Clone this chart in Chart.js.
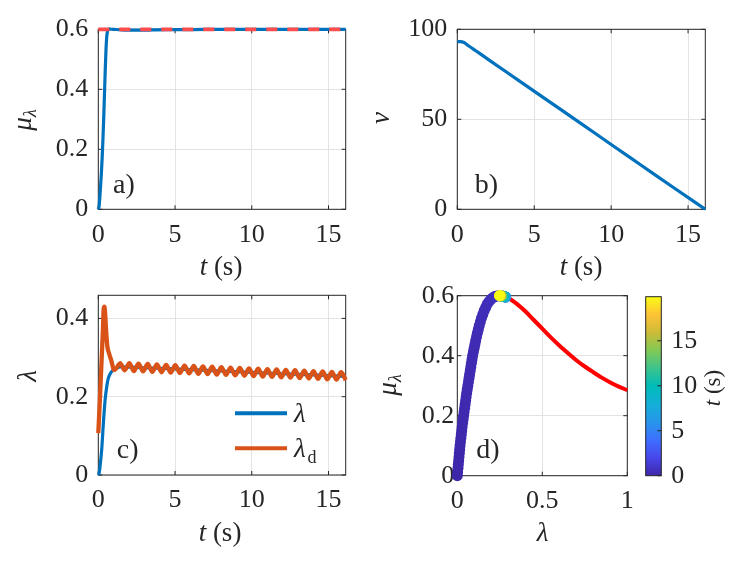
<!DOCTYPE html>
<html><head><meta charset="utf-8">
<script src="https://cdn.jsdelivr.net/npm/chart.js@4.4.1/dist/chart.umd.min.js"></script>
<style>
html,body{margin:0;padding:0;background:#fff;}
#wrap{position:relative;width:747px;height:561px;overflow:hidden;}
canvas{position:absolute;left:0;top:0;}
</style></head><body><div id="wrap">
<canvas id="ca" width="747" height="561"></canvas>
<canvas id="cb" width="747" height="561"></canvas>
<canvas id="cc" width="747" height="561"></canvas>
<canvas id="cd" width="747" height="561"></canvas>
<canvas id="ce" width="747" height="561"></canvas>
</div>
<script>
// ---------------- data ----------------
// panel a: friction coefficient vs time
const muTime  = [0, 0.05, 0.1, 0.15, 0.2, 0.25, 0.3, 0.35, 0.4, 0.45, 0.5, 0.55, 0.6, 0.65, 0.75, 1.0, 1.5, 2.0, 2.5, 3.0, 3.5, 4.5, 6, 8, 10, 12, 14, 16.12];
const muValue = [0, 0.01, 0.04, 0.08, 0.12, 0.17, 0.23, 0.30, 0.38, 0.46, 0.53, 0.575, 0.594, 0.6, 0.601, 0.6, 0.598, 0.597, 0.597, 0.597, 0.598, 0.599, 0.599, 0.6, 0.6, 0.6, 0.6, 0.6];
const muPeakTime  = [0, 16.12];
const muPeakValue = [0.6, 0.6];
// panel b: speed vs time
const nuTime  = [0, 0.2, 0.4, 0.7, 1, 2, 4, 6, 8, 10, 12, 14, 16.12];
const nuValue = [93.1, 93.1, 92.8, 91.0, 89.3, 83.3, 71.5, 59.7, 47.9, 36.0, 24.2, 12.4, 0];
// panel c: slip and desired slip
const lamTime  = [0, 0.05, 0.11, 0.22, 0.33, 0.44, 0.55, 0.65, 0.81, 0.98, 1.2, 1.42, 3, 5, 8, 10, 12, 14, 16.12];
const lamValue = [0, 0.004, 0.021, 0.064, 0.132, 0.19, 0.226, 0.247, 0.261, 0.268, 0.273, 0.276, 0.274, 0.271, 0.2657, 0.262, 0.2586, 0.2555, 0.252];
const lamDTime = [0, 0.1, 0.2, 0.3, 0.35, 0.4, 0.45, 0.5, 0.59, 0.7, 0.87, 1.02, 1.2,
  1.42, 1.72, 2.02, 2.32, 2.62, 2.92, 3.22, 3.52, 3.82, 4.12, 4.42, 4.72, 5.02, 5.32, 5.62, 5.92,
  6.22, 6.52, 6.82, 7.12, 7.42, 7.72, 8.02, 8.32, 8.62, 8.92, 9.22, 9.52, 9.82, 10.12, 10.42, 10.72,
  11.02, 11.32, 11.62, 11.92, 12.22, 12.52, 12.82, 13.12, 13.42, 13.72, 14.02, 14.32, 14.62, 14.92,
  15.22, 15.52, 15.82, 16.12];
const lamDValue = [0.107, 0.19, 0.28, 0.37, 0.425, 0.43, 0.41, 0.375, 0.328, 0.311, 0.289, 0.268, 0.274,
  0.286, 0.2675, 0.2855, 0.2655, 0.2845, 0.2645, 0.2835, 0.2635, 0.2825, 0.2625, 0.2815, 0.2615, 0.2805, 0.2605, 0.2795, 0.2595,
  0.2785, 0.2585, 0.2775, 0.2575, 0.2765, 0.2565, 0.2755, 0.2555, 0.2745, 0.2545, 0.2735, 0.2535, 0.2725, 0.2525, 0.2715, 0.2515,
  0.2705, 0.2505, 0.2695, 0.2495, 0.2685, 0.2485, 0.2675, 0.2475, 0.2665, 0.2465, 0.2655, 0.2455, 0.2645, 0.2445,
  0.2635, 0.2435, 0.2625, 0.2425];
// panel d: mu-lambda curve and operating points
const curveLambda = [0, 0.016, 0.031, 0.049, 0.062, 0.076, 0.09, 0.108, 0.129, 0.158, 0.176, 0.197, 0.22, 0.25, 0.3, 0.35, 0.4, 0.45, 0.5, 0.55, 0.6, 0.65, 0.7, 0.75, 0.8, 0.85, 0.9, 0.95, 1.0];
const curveMu     = [0, 0.10, 0.175, 0.25, 0.30, 0.35, 0.40, 0.45, 0.50, 0.55, 0.572, 0.588, 0.597, 0.6, 0.592, 0.573, 0.548, 0.519, 0.490, 0.461, 0.434, 0.409, 0.385, 0.364, 0.345, 0.327, 0.311, 0.297, 0.285];
const scatLambda = [0, 0.002, 0.004, 0.006, 0.008, 0.010, 0.012, 0.014, 0.016, 0.0185, 0.021, 0.0235, 0.026, 0.0285, 0.031, 0.034, 0.037,
  0.040, 0.043, 0.046, 0.049, 0.052, 0.055, 0.0585, 0.062, 0.0655, 0.069, 0.0725, 0.076, 0.0795, 0.083, 0.0865, 0.09,
  0.0945, 0.099, 0.1035, 0.108, 0.113, 0.118, 0.1235, 0.129, 0.1355, 0.142, 0.15, 0.158, 0.167, 0.176, 0.186, 0.197,
  0.208, 0.22, 0.232, 0.245,
  0.262, 0.27, 0.275, 0.278, 0.28, 0.283, 0.285, 0.282, 0.278, 0.274, 0.27, 0.266, 0.263, 0.26, 0.258, 0.256, 0.254, 0.252, 0.251, 0.25, 0.25, 0.249];
const scatMu = [0, 0.0125, 0.025, 0.0375, 0.05, 0.0625, 0.075, 0.0875, 0.10, 0.1125, 0.125, 0.1375, 0.15, 0.1625, 0.175, 0.1875, 0.20,
  0.2125, 0.225, 0.2375, 0.25, 0.2625, 0.275, 0.2875, 0.30, 0.3125, 0.325, 0.3375, 0.35, 0.3625, 0.375, 0.3875, 0.40,
  0.4125, 0.425, 0.4375, 0.45, 0.4625, 0.475, 0.4875, 0.50, 0.5125, 0.525, 0.5375, 0.55, 0.561, 0.572, 0.58, 0.588,
  0.593, 0.597, 0.599, 0.600,
  0.599, 0.598, 0.597, 0.597, 0.596, 0.596, 0.595, 0.596, 0.597, 0.597, 0.598, 0.598, 0.599, 0.599, 0.6, 0.6, 0.6, 0.6, 0.6, 0.6, 0.6, 0.6];
const scatTime = [0, 0.02, 0.04, 0.05, 0.06, 0.07, 0.08, 0.09, 0.1, 0.11, 0.12, 0.13, 0.14, 0.15, 0.16, 0.17, 0.18,
  0.19, 0.2, 0.21, 0.22, 0.23, 0.24, 0.245, 0.25, 0.255, 0.26, 0.265, 0.27, 0.28, 0.29, 0.3, 0.31,
  0.32, 0.33, 0.34, 0.35, 0.36, 0.37, 0.38, 0.39, 0.40, 0.42, 0.44, 0.46, 0.48, 0.5, 0.52, 0.54,
  0.56, 0.59, 0.62, 0.65,
  0.8, 1.0, 1.5, 2.5, 3.5, 4.5, 5.5, 6.5, 7.5, 8.5, 9.5, 10.5, 11.5, 12.5, 13.5, 14.5, 15.5, 16.5, 17.5, 18.5, 19.2, 19.9];
// tick labels
const tickT   = [0, 5, 10, 15];
const tickMu  = [0, 0.2, 0.4, 0.6];
const tickNu  = [0, 50, 100];
const tickLam = [0, 0.2, 0.4];
const tickLamX = [0, 0.5, 1];
const tickCb  = [0, 5, 10, 15];
const cbRange = [0, 19.9];

// ---------------- style helpers ----------------
const FF = '"Liberation Serif", "DejaVu Serif", serif';
const INK = '#262626';
const BLUE = '#0072BD', ORANGE = '#D95319';
const TICK = 26, LAB = 27;
const it = s => `italic ${s}px ${FF}`;
const up = s => `${s}px ${FF}`;
const parulaStops = [[62,38,168],[71,71,235],[62,111,255],[39,150,235],[20,175,215],[0,188,185],[60,196,140],[130,201,85],[205,187,55],[254,195,55],[249,251,20]];
function parula(f){
  f = Math.max(0, Math.min(1, f));
  const n = parulaStops.length - 1;
  const i = Math.min(n - 1, Math.floor(f * n));
  const r = f * n - i;
  const a = parulaStops[i], b = parulaStops[i + 1];
  return `rgb(${Math.round(a[0]+(b[0]-a[0])*r)},${Math.round(a[1]+(b[1]-a[1])*r)},${Math.round(a[2]+(b[2]-a[2])*r)})`;
}
function pts(xs, ys){ return xs.map((x, i) => ({x, y: ys[i]})); }
function rich(ctx, parts, x, y, rot){
  ctx.save();
  ctx.translate(x, y);
  if (rot) ctx.rotate(rot);
  let w = 0;
  parts.forEach(p => { ctx.font = p.f; p.w = ctx.measureText(p.t).width; w += p.w; });
  let cx = -w / 2;
  ctx.textBaseline = 'alphabetic';
  ctx.textAlign = 'left';
  ctx.fillStyle = INK;
  parts.forEach(p => { ctx.font = p.f; ctx.fillText(p.t, cx, p.dy || 0); cx += p.w; });
  ctx.restore();
}
function txt(ctx, s, font, x, y){
  ctx.save(); ctx.font = font; ctx.fillStyle = INK; ctx.textBaseline = 'alphabetic'; ctx.textAlign = 'left';
  ctx.fillText(s, x, y); ctx.restore();
}
function fmt(v){ return String(+Number(v).toFixed(2)); }
function axis(min, max, ticks, opts){
  opts = opts || {};
  return {
    type: 'linear', min, max,
    position: opts.position,
    afterBuildTicks(s){ s.ticks = ticks.map(v => ({value: v})); },
    afterFit(s){ if (opts.h !== undefined) s.height = opts.h; if (opts.w !== undefined) s.width = opts.w; },
    ticks: {font: {family: FF, size: TICK}, color: INK, padding: opts.pad, maxRotation: 0, autoSkip: false, callback: fmt},
    grid: {display: opts.grid !== false, color: '#e3e3e3', lineWidth: 1, drawTicks: false},
    border: {display: false}
  };
}
function makeDecor(d){
  return {
    id: 'decor',
    beforeDatasetsDraw(chart){
      if (d.before) d.before(chart);
      const ctx = chart.ctx, a = chart.chartArea, sc = chart.scales;
      ctx.save();
      ctx.strokeStyle = INK; ctx.lineWidth = 1;
      const L = 4;
      const seg = (x1, y1, x2, y2) => { ctx.beginPath(); ctx.moveTo(x1, y1); ctx.lineTo(x2, y2); ctx.stroke(); };
      if (d.xTicks !== false) sc.x.ticks.forEach(t => { const p = sc.x.getPixelForValue(t.value); seg(p, a.bottom, p, a.bottom - L); seg(p, a.top, p, a.top + L); });
      if (d.yTicks !== false) sc.y.ticks.forEach(t => { const p = sc.y.getPixelForValue(t.value); if (!d.cbTicks) seg(a.left, p, a.left + L, p); seg(a.right, p, a.right - L, p); });
      ctx.strokeRect(a.left, a.top, a.right - a.left, a.bottom - a.top);
      ctx.restore();
    },
    afterDraw(chart){
      const ctx = chart.ctx;
      (d.texts || []).forEach(t => rich(ctx, t.parts, t.x, t.y, t.rot));
      if (d.after) d.after(chart);
    }
  };
}
const ROT = -Math.PI / 2;
const tLabel = [{t: 't', f: it(LAB)}, {t: ' (s)', f: up(LAB)}];
const muLabel = () => [{t: 'μ', f: it(LAB)}, {t: 'λ', f: it(18), dy: 5}];
function base(pad){
  return {responsive: false, animation: false, events: [], layout: {padding: pad},
          plugins: {legend: {display: false}, tooltip: {enabled: false}}};
}
function box(L, R, T, B, yw, xh){ return {left: L - yw, right: 747 - R, top: T, bottom: 561 - B - xh}; }

// ---------------- panel a ----------------
new Chart(document.getElementById('ca'), {
  type: 'line',
  data: {datasets: [
    {data: pts(muPeakTime, muPeakValue), borderColor: '#FF4D4D', borderWidth: 3.8, borderDash: [11, 10], pointRadius: 0, tension: 0, clip: 6, order: 0},
    {data: pts(muTime, muValue), borderColor: BLUE, borderWidth: 3.2, pointRadius: 0, cubicInterpolationMode: 'monotone', clip: 6, order: 1}
  ]},
  options: Object.assign(base(box(98.3, 345.7, 29.3, 209.3, 50, 40)), {
    scales: {x: axis(0, 16.12, tickT, {h: 40, pad: 10}), y: axis(0, 0.6, tickMu, {w: 50, pad: 10})}
  }),
  plugins: [makeDecor({texts: [
    {parts: tLabel, x: 221, y: 275},
    {parts: muLabel(), x: 31, y: 120, rot: ROT}
  ], after(c){ txt(c.ctx, 'a)', up(28), 113, 193); }})]
});

// ---------------- panel b ----------------
new Chart(document.getElementById('cb'), {
  type: 'line',
  data: {datasets: [
    {data: pts(nuTime, nuValue), borderColor: BLUE, borderWidth: 3.2, pointRadius: 0, cubicInterpolationMode: 'monotone', clip: 6}
  ]},
  options: Object.assign(base(box(457.3, 705.3, 29.3, 209.3, 50, 40)), {
    scales: {x: axis(0, 16.12, tickT, {h: 40, pad: 10}), y: axis(0, 100, tickNu, {w: 50, pad: 10})}
  }),
  plugins: [makeDecor({texts: [
    {parts: tLabel, x: 581, y: 275},
    {parts: [{t: 'ν', f: it(LAB)}], x: 389, y: 118, rot: ROT}
  ], after(c){ txt(c.ctx, 'b)', up(28), 474.7, 193); }})]
});

// ---------------- panel c ----------------
new Chart(document.getElementById('cc'), {
  type: 'line',
  data: {datasets: [
    {data: pts(lamDTime, lamDValue), borderColor: ORANGE, borderWidth: 4.3, pointRadius: 0, cubicInterpolationMode: 'monotone', clip: 6},
    {data: pts(lamTime, lamValue), borderColor: BLUE, borderWidth: 3.2, pointRadius: 0, cubicInterpolationMode: 'monotone', clip: 6}
  ]},
  options: Object.assign(base(box(98.3, 345.7, 295.3, 475, 50, 40)), {
    scales: {x: axis(0, 16.12, tickT, {h: 40, pad: 10}), y: axis(0, 0.459, tickLam, {w: 50, pad: 10})}
  }),
  plugins: [makeDecor({texts: [
    {parts: tLabel, x: 220, y: 541},
    {parts: [{t: 'λ', f: it(LAB)}], x: 36, y: 376, rot: ROT}
  ], after(c){
    const ctx = c.ctx;
    txt(ctx, 'c)', up(28), 116.7, 458);
    ctx.save(); ctx.lineWidth = 4;
    ctx.strokeStyle = BLUE; ctx.beginPath(); ctx.moveTo(235, 413.3); ctx.lineTo(287, 413.3); ctx.stroke();
    ctx.strokeStyle = ORANGE; ctx.beginPath(); ctx.moveTo(235, 448.3); ctx.lineTo(287, 448.3); ctx.stroke();
    ctx.restore();
    txt(ctx, 'λ', it(27), 294, 421.5);
    txt(ctx, 'λ', it(27), 294, 456.5);
    txt(ctx, 'd', up(18), 307.5, 462.5);
  }})]
});

// ---------------- panel d ----------------
const cbSpan = cbRange[1] - cbRange[0];
new Chart(document.getElementById('cd'), {
  type: 'scatter',
  data: {datasets: [
    {data: pts(scatLambda, scatMu), showLine: false, pointRadius: 5.5, pointBorderWidth: 0,
     pointBackgroundColor: scatTime.map(t => parula((t - cbRange[0]) / cbSpan)), clip: false},
    {data: pts(curveLambda, curveMu), showLine: true, borderColor: '#FF0000', borderWidth: 4, pointRadius: 0, cubicInterpolationMode: 'monotone', clip: 6}
  ]},
  options: Object.assign(base(box(457.3, 627.3, 295.7, 475.7, 50, 40)), {
    scales: {x: axis(0, 1, tickLamX, {h: 40, pad: 10}), y: axis(0, 0.6, tickMu, {w: 50, pad: 3})}
  }),
  plugins: [makeDecor({texts: [
    {parts: [{t: 'λ', f: it(LAB)}], x: 542.5, y: 541},
    {parts: muLabel(), x: 396, y: 385, rot: ROT}
  ], after(c){ txt(c.ctx, 'd)', up(28), 476.3, 458.3); }})]
});

// ---------------- colorbar ----------------
new Chart(document.getElementById('ce'), {
  type: 'scatter',
  data: {datasets: []},
  options: Object.assign(base({left: 645.7, right: 747 - 661.3 - 60, top: 296.7, bottom: 561 - 475.7}), {
    scales: {
      x: {type: 'linear', display: false, min: 0, max: 1},
      y: axis(cbRange[0], cbRange[1], tickCb, {w: 60, pad: 10, position: 'right', grid: false})
    }
  }),
  plugins: [makeDecor({xTicks: false, cbTicks: true,
    before(c){
      const ctx = c.ctx, a = c.chartArea, y = c.scales.y;
      const g = ctx.createLinearGradient(0, y.getPixelForValue(cbRange[0]), 0, y.getPixelForValue(cbRange[1]));
      parulaStops.forEach((s, i) => g.addColorStop(i / (parulaStops.length - 1), `rgb(${s[0]},${s[1]},${s[2]})`));
      ctx.save(); ctx.fillStyle = g; ctx.fillRect(a.left, a.top, a.right - a.left, a.bottom - a.top); ctx.restore();
    },
    texts: [{parts: [{t: 't', f: it(23)}, {t: ' (s)', f: up(23)}], x: 720, y: 388, rot: ROT}]
  })]
});
</script>
</body></html>
